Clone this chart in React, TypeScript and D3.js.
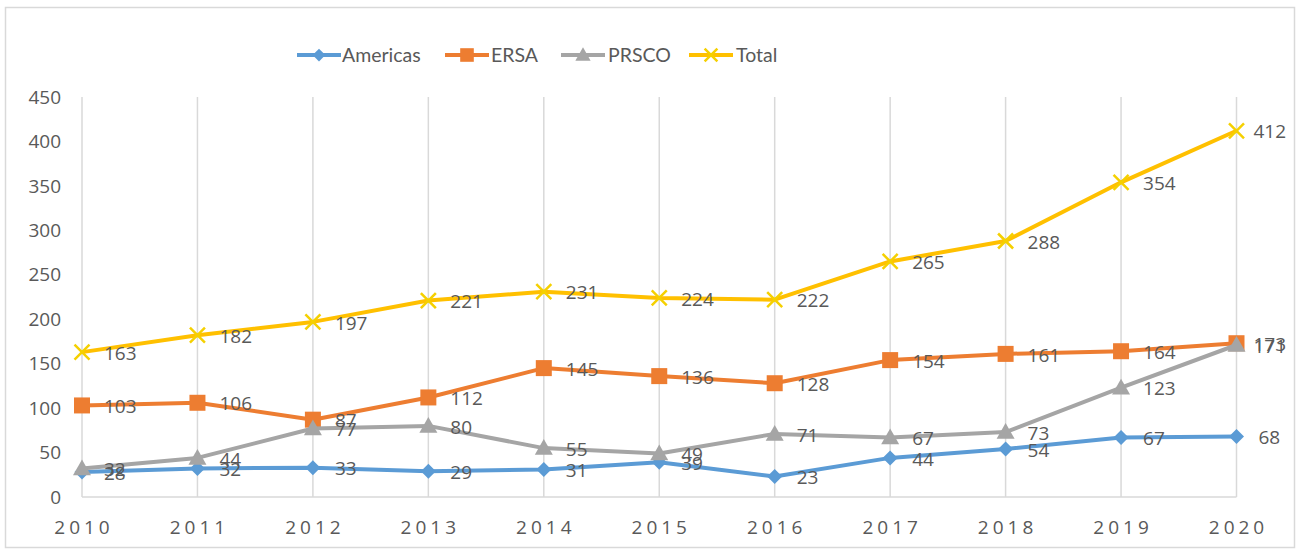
import React from "react";
import * as d3 from "d3";

const years = ["2010","2011","2012","2013","2014","2015","2016","2017","2018","2019","2020"];
const americas = [28, 32, 33, 29, 31, 39, 23, 44, 54, 67, 68];
const ersa = [103, 106, 87, 112, 145, 136, 128, 154, 161, 164, 173];
const prsco = [32, 44, 77, 80, 55, 49, 71, 67, 73, 123, 171];
const total = [163, 182, 197, 221, 231, 224, 222, 265, 288, 354, 412];
const yTicks = [0, 50, 100, 150, 200, 250, 300, 350, 400, 450];

const W = 1299, H = 553;
const FONT = "'Open Sans', 'Liberation Sans', sans-serif";
const LEGEND_FONT = "Lato, 'Open Sans', sans-serif";
const TXT = "#595959";

type S = { name: string; values: number[]; color: string; marker: string };
const series: S[] = [
  { name: "Americas", values: americas, color: "#5B9BD5", marker: "diamond" },
  { name: "ERSA", values: ersa, color: "#ED7D31", marker: "square" },
  { name: "PRSCO", values: prsco, color: "#A5A5A5", marker: "triangle" },
  { name: "Total", values: total, color: "#FFC000", marker: "x" },
];

function Marker({ type, x, y, color, scale = 1 }: { type: string; x: number; y: number; color: string; scale?: number }) {
  if (type === "diamond") {
    const r = 7.5 * scale;
    return <path d={`M${x},${y - r}L${x + r},${y}L${x},${y + r}L${x - r},${y}Z`} fill={color} />;
  }
  if (type === "square") {
    const r = 8 * scale;
    return <rect x={x - r} y={y - r} width={2 * r} height={2 * r} fill={color} />;
  }
  if (type === "triangle") {
    const r = 9 * scale;
    return <path d={`M${x},${y - r}L${x + r},${y + r * 0.75}L${x - r},${y + r * 0.75}Z`} fill={color} />;
  }
  const r = 7.5 * scale;
  return (
    <g stroke="#F5D000" strokeWidth={2.5}>
      <line x1={x - r} y1={y - r} x2={x + r} y2={y + r} />
      <line x1={x - r} y1={y + r} x2={x + r} y2={y - r} />
    </g>
  );
}

export default function App() {
  const x = d3.scalePoint<string>().domain(years).range([82, 1236.5]);
  const y = d3.scaleLinear().domain([0, 450]).range([497, 97]);
  const line = d3.line<number>().x((_, i) => x(years[i])!).y((v) => y(v));

  const legendItems = [
    { s: series[0], x0: 297, tx: 342 },
    { s: series[1], x0: 445, tx: 491 },
    { s: series[2], x0: 561, tx: 608 },
    { s: series[3], x0: 689, tx: 736 },
  ];

  return (
    <svg width={W} height={H} style={{ position: "absolute", left: 0, top: 0, background: "#fff" }} fontFamily={FONT}>
      <rect x={5.5} y={7.5} width={1289} height={540} fill="#fff" stroke="#D9D9D9" strokeWidth={1.5} />
      {/* vertical gridlines */}
      {years.map((yr) => (
        <line key={yr} x1={x(yr)} x2={x(yr)} y1={97} y2={497} stroke="#D9D9D9" strokeWidth={1.5} />
      ))}
      <line x1={82} x2={1236.5} y1={497} y2={497} stroke="#D9D9D9" strokeWidth={1.5} />
      {/* y ticks */}
      {yTicks.map((t) => (
        <text key={t} x={61} y={y(t)} dy="0.35em" textAnchor="end" fontSize={19} fill={TXT}>{t}</text>
      ))}
      {/* x ticks */}
      {years.map((yr) => (
        <text key={yr} x={x(yr)! + 2} y={527} dy="0.35em" textAnchor="middle" fontSize={19} fill={TXT} letterSpacing={4}>{yr}</text>
      ))}
      {/* lines */}
      {series.map((s) => (
        <g key={s.name}>
          <path d={line(s.values)!} fill="none" stroke={s.color} strokeWidth={4} strokeLinejoin="round" />
          {s.values.map((v, i) => (
            <Marker key={i} type={s.marker} x={x(years[i])!} y={y(v)} color={s.color} />
          ))}
        </g>
      ))}
      {/* data labels */}
      {series.map((s) => (
        <g key={s.name + "l"}>
          {s.values.map((v, i) => {
            const px = x(years[i])! + 22;
            const wEst = String(v).length * 10.8;
            const overflow = px + wEst > 1286;
            return (
              <text key={i} x={overflow ? 1286 : px} y={y(v) + 1} dy="0.35em" textAnchor={overflow ? "end" : "start"} fontSize={19} fill={TXT}>
                {v}
              </text>
            );
          })}
        </g>
      ))}
      {/* legend */}
      {legendItems.map(({ s, x0, tx }) => (
        <g key={s.name + "lg"}>
          <line x1={x0} x2={x0 + 44} y1={55} y2={55} stroke={s.color} strokeWidth={4} />
          <Marker type={s.marker} x={x0 + 22} y={55} color={s.color} scale={0.85} />
          <text x={tx} y={55} dy="0.35em" fontSize={19.5} fill={TXT} fontFamily={LEGEND_FONT}>{s.name}</text>
        </g>
      ))}
    </svg>
  );
}
